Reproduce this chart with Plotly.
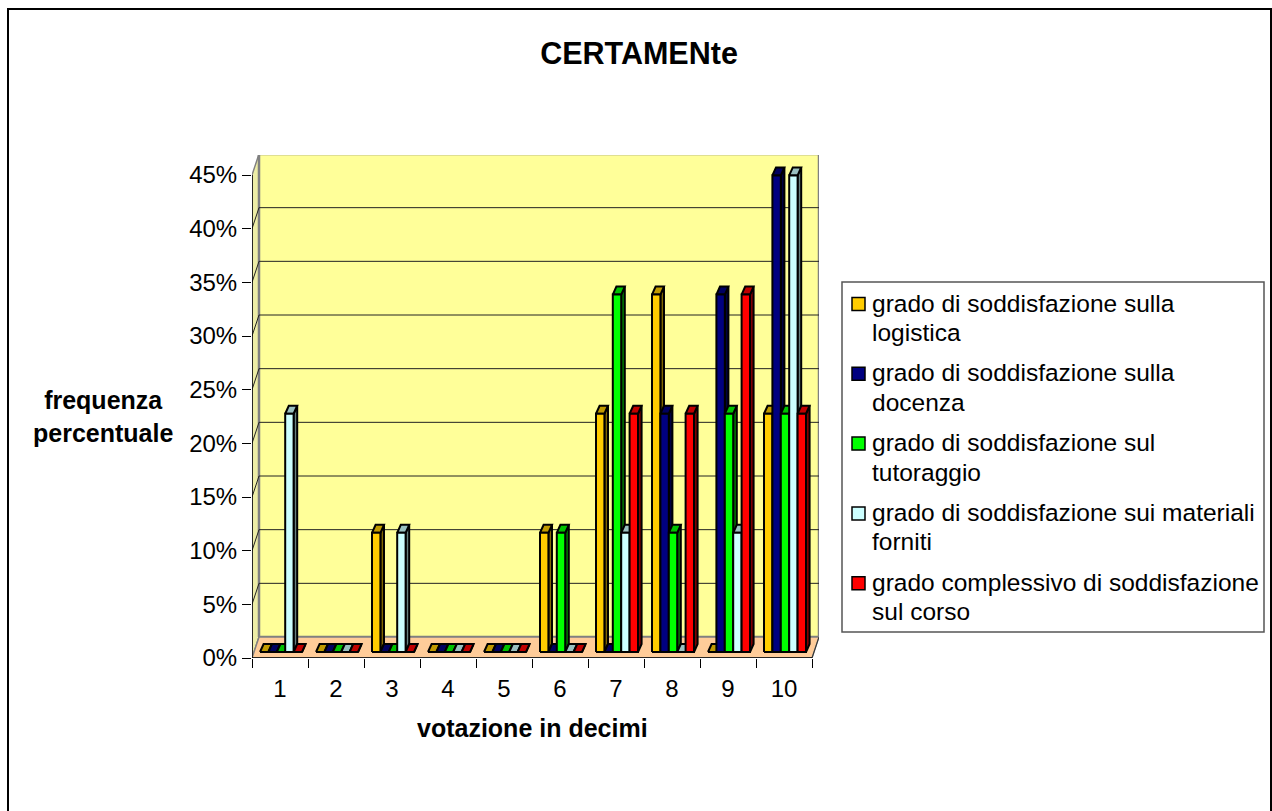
import plotly.graph_objects as go

categories = [1, 2, 3, 4, 5, 6, 7, 8, 9, 10]
logistica = [0, 0, 11.1, 0, 0, 11.1, 22.2, 33.3, 0, 22.2]
docenza = [0, 0, 0, 0, 0, 0, 0, 22.2, 33.3, 44.4]
tutoraggio = [0, 0, 0, 0, 0, 11.1, 33.3, 11.1, 22.2, 22.2]
materiali = [22.2, 0, 11.1, 0, 0, 0, 11.1, 0, 11.1, 44.4]
complessivo = [0, 0, 0, 0, 0, 0, 22.2, 22.2, 33.3, 22.2]
y_ticks = [0, 5, 10, 15, 20, 25, 30, 35, 40, 45]
y_labels = ["0%", "5%", "10%", "15%", "20%", "25%", "30%", "35%", "40%", "45%"]

series = [
    (["grado di soddisfazione sulla", "logistica"], logistica, "#FFCC00", "#C09A00", "#806600"),
    (["grado di soddisfazione sulla", "docenza"], docenza, "#000080", "#000060", "#000040"),
    (["grado di soddisfazione sul", "tutoraggio"], tutoraggio, "#00FF00", "#00C000", "#008000"),
    (["grado di soddisfazione sui materiali", "forniti"], materiali, "#CCFFFF", "#99C0C0", "#668080"),
    (["grado complessivo di soddisfazione", "sul corso"], complessivo, "#FF0000", "#C00000", "#800000"),
]

W, H = 1272, 811
PX_L, PX_R, PX_B, PX_T = 252, 819, 658, 155
PX_PER_CAT = 56.0
PX_PER_PCT = 483 / 45
WALL_DX = 7 / PX_PER_CAT
WALL_DY = 21 / PX_PER_PCT
BAR_W = 8.4 / PX_PER_CAT
BAR_START = 8 / PX_PER_CAT
BAR_DX = 3.6 / PX_PER_CAT
BAR_DY = 8 / PX_PER_PCT
BAR_Y0 = 6 / PX_PER_PCT
X0 = categories[0] - 0.5
X1 = categories[-1] + 0.5
Y_TOP = (PX_B - PX_T) / PX_PER_PCT
FONT = "Liberation Sans, Arial, sans-serif"


def px(x):
    return x / W


def py(y):
    return 1 - y / H


def poly(xs, ys, fill, line="black", width=2, name=""):
    return go.Scatter(
        x=xs, y=ys, mode="lines", fill="toself", fillcolor=fill,
        line=dict(color=line, width=width), showlegend=False,
        hoverinfo="skip", cliponaxis=False, name=name,
    )


def seg(xs, ys, color, width):
    return go.Scatter(x=xs, y=ys, mode="lines", line=dict(color=color, width=width),
                      showlegend=False, hoverinfo="skip", cliponaxis=False)


fig = go.Figure()

fig.add_trace(poly([X0, X0 + WALL_DX, X0 + WALL_DX, X0, X0],
                   [0, WALL_DY, y_ticks[-1] + WALL_DY, y_ticks[-1], 0], "#EDEDA6", "#808080", 1.5))
fig.add_trace(poly([X0 + WALL_DX, X1 + WALL_DX, X1 + WALL_DX, X0 + WALL_DX, X0 + WALL_DX],
                   [WALL_DY, WALL_DY, y_ticks[-1] + WALL_DY, y_ticks[-1] + WALL_DY, WALL_DY],
                   "#FFFF99", "#808080", 2.5))
fig.add_trace(poly([X0, X1, X1 + WALL_DX, X0 + WALL_DX, X0],
                   [0, 0, WALL_DY, WALL_DY, 0], "#FFCC99", "#808080", 1.5))
for t in y_ticks[1:-1]:
    fig.add_trace(seg([X0, X0 + WALL_DX, X1 + WALL_DX],
                      [t, t + WALL_DY, t + WALL_DY], "#222222", 1))
fig.add_trace(seg([X1, X1 + WALL_DX], [0, WALL_DY], "#333333", 1))
fig.add_trace(seg([X0, X0, None, X0, X1], [0, y_ticks[-1], None, 0, 0], "black", 1.5))

for s, (name, vals, front, top, side) in enumerate(series):
    fx, fy, tx, ty, sx, sy = [], [], [], [], [], []
    for c, v in zip(categories, vals):
        a = c - 0.5 + BAR_START + s * BAR_W
        b = a + BAR_W
        y0, y1 = BAR_Y0, BAR_Y0 + v
        fx += [a, b, b, a, a, None]
        fy += [y0, y0, y1, y1, y0, None]
        tx += [a, b, b + BAR_DX, a + BAR_DX, a, None]
        ty += [y1, y1, y1 + BAR_DY, y1 + BAR_DY, y1, None]
        sx += [b, b + BAR_DX, b + BAR_DX, b, b, None]
        sy += [y0, y0 + BAR_DY, y1 + BAR_DY, y1, y0, None]
    fig.add_trace(poly(sx, sy, side))
    fig.add_trace(poly(tx, ty, top))
    fig.add_trace(poly(fx, fy, front, name=" ".join(name)))

shapes = [
    dict(type="rect", xref="paper", yref="paper", x0=px(8), x1=px(1271), y0=py(830), y1=py(9),
         line=dict(color="black", width=2), layer="below"),
    dict(type="rect", xref="paper", yref="paper", x0=px(842), x1=px(1264), y0=py(632), y1=py(282),
         line=dict(color="#555555", width=1.5), fillcolor="white", layer="below"),
]
annotations = [
    dict(text="<b>frequenza<br>percentuale</b>", xref="paper", yref="paper", x=px(103), y=py(416),
         showarrow=False, font=dict(size=25, family=FONT), xanchor="center", yanchor="middle"),
    dict(text="<b>votazione in decimi</b>", xref="paper", yref="paper", x=px(532), y=py(728),
         showarrow=False, font=dict(size=25, family=FONT), xanchor="center", yanchor="middle"),
]
for i, (lines, vals, front, top, side) in enumerate(series):
    cy = 304 + i * 69.8
    shapes.append(dict(type="rect", xref="paper", yref="paper", x0=px(852), x1=px(865),
                       y0=py(cy + 6.5), y1=py(cy - 6.5), fillcolor=front,
                       line=dict(color="black", width=1.5)))
    for j, txt in enumerate(lines):
        annotations.append(dict(text=txt, xref="paper", yref="paper", x=px(872), y=py(cy - 1 + j * 29.5),
                                showarrow=False, xanchor="left", yanchor="middle", align="left",
                                xshift=-2, font=dict(size=24.5, family=FONT, color="black")))

fig.update_layout(
    width=W, height=H, margin=dict(l=0, r=0, t=0, b=0), showlegend=False,
    paper_bgcolor="white", plot_bgcolor="rgba(0,0,0,0)",
    font=dict(family=FONT, color="black", size=24),
    title=dict(text="<b>CERTAMENte</b>", x=px(639), xanchor="center", y=py(53), yanchor="middle",
               font=dict(size=30.5, family=FONT, color="black")),
    xaxis=dict(
        domain=[px(PX_L), px(PX_R)], range=[X0, X1 + WALL_DX], automargin=False,
        tickmode="array", tickvals=categories, ticktext=[str(c) for c in categories],
        ticks="outside", ticklen=9, tickcolor="rgba(0,0,0,0)",
        minor=dict(tickmode="array", tickvals=[c - 0.5 for c in categories] + [X1],
                   ticks="outside", ticklen=9, tickcolor="black", tickwidth=1),
        showgrid=False, zeroline=False, showline=False, tickfont=dict(size=24),
    ),
    yaxis=dict(
        domain=[py(PX_B), py(PX_T)], range=[0, Y_TOP], automargin=False,
        tickmode="array", tickvals=y_ticks, ticktext=y_labels,
        ticks="outside", ticklen=9, tickcolor="black", tickwidth=1,
        showgrid=False, zeroline=False, showline=False, tickfont=dict(size=24),
    ),
    shapes=shapes,
    annotations=annotations,
)

fig.write_html("out.html", post_script="document.body.style.margin='0';", config={"displayModeBar": False})
